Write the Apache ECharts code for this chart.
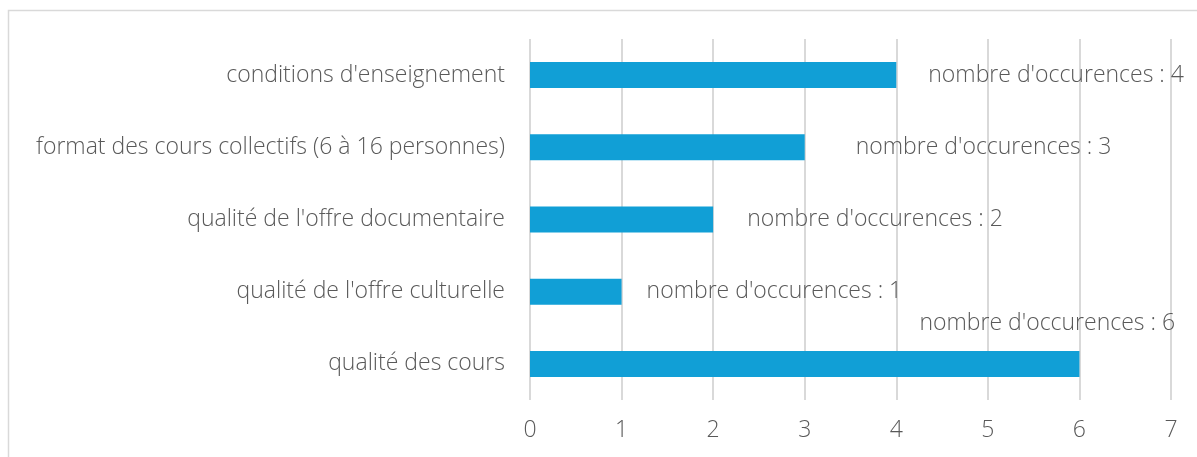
<!DOCTYPE html>
<html><head><meta charset="utf-8">
<script src="https://cdn.jsdelivr.net/npm/echarts@6/dist/echarts.min.js"></script>
<style>html,body{margin:0;padding:0;background:#fff}#c{width:1197px;height:457px}</style>
</head><body><div id="c"></div>
<script>
const categories = ["qualité des cours", "qualité de l'offre culturelle", "qualité de l'offre documentaire", "format des cours collectifs (6 à 16 personnes)", "conditions d'enseignement"];
const values = [6, 1, 2, 3, 4];
const xTicks = [0, 1, 2, 3, 4, 5, 6, 7];
const labelPrefix = "nombre d'occurences : ";

const chart = echarts.init(document.getElementById('c'), null, {renderer: 'canvas'});
const FONT = '"Open Sans"';
// label placements as seen in the reference (offset in px from bar end)
const labelOffsets = [[-160, -40], [25, 0], [34, 0], [51, 0], [32, 0]];
const seriesData = values.map((v, i) => ({
  value: v,
  label: {offset: labelOffsets[i]}
}));
chart.setOption({
  animation: false,
  graphic: [{
    type: 'rect', shape: {x: 8.5, y: 10.5, width: 1200, height: 500},
    style: {fill: 'none', stroke: '#d9d9d9', lineWidth: 1.5}
  }],
  grid: {left: 530, right: 26, top: 39, bottom: 57, containLabel: false},
  xAxis: {
    type: 'value', min: 0, max: 7, interval: 1,
    axisLine: {show: false}, axisTick: {show: false},
    splitLine: {show: true, lineStyle: {color: '#d9d9d9', width: 2}},
    axisLabel: {color: '#595959', fontFamily: FONT, fontWeight: 300, fontSize: 23, margin: 19,
      formatter: v => xTicks.includes(v) ? String(v) : ''}
  },
  yAxis: {
    type: 'category', data: categories,
    axisLine: {show: false}, axisTick: {show: false},
    axisLabel: {color: '#595959', fontFamily: FONT, fontWeight: 300, fontSize: 23, margin: 25}
  },
  series: [{
    type: 'bar', data: seriesData, barWidth: 26,
    itemStyle: {color: '#119fd6'},
    label: {
      show: true, position: 'right', distance: 0,
      color: '#595959', fontFamily: FONT, fontWeight: 300, fontSize: 23,
      formatter: p => labelPrefix + p.value
    }
  }]
});
</script></body></html>
